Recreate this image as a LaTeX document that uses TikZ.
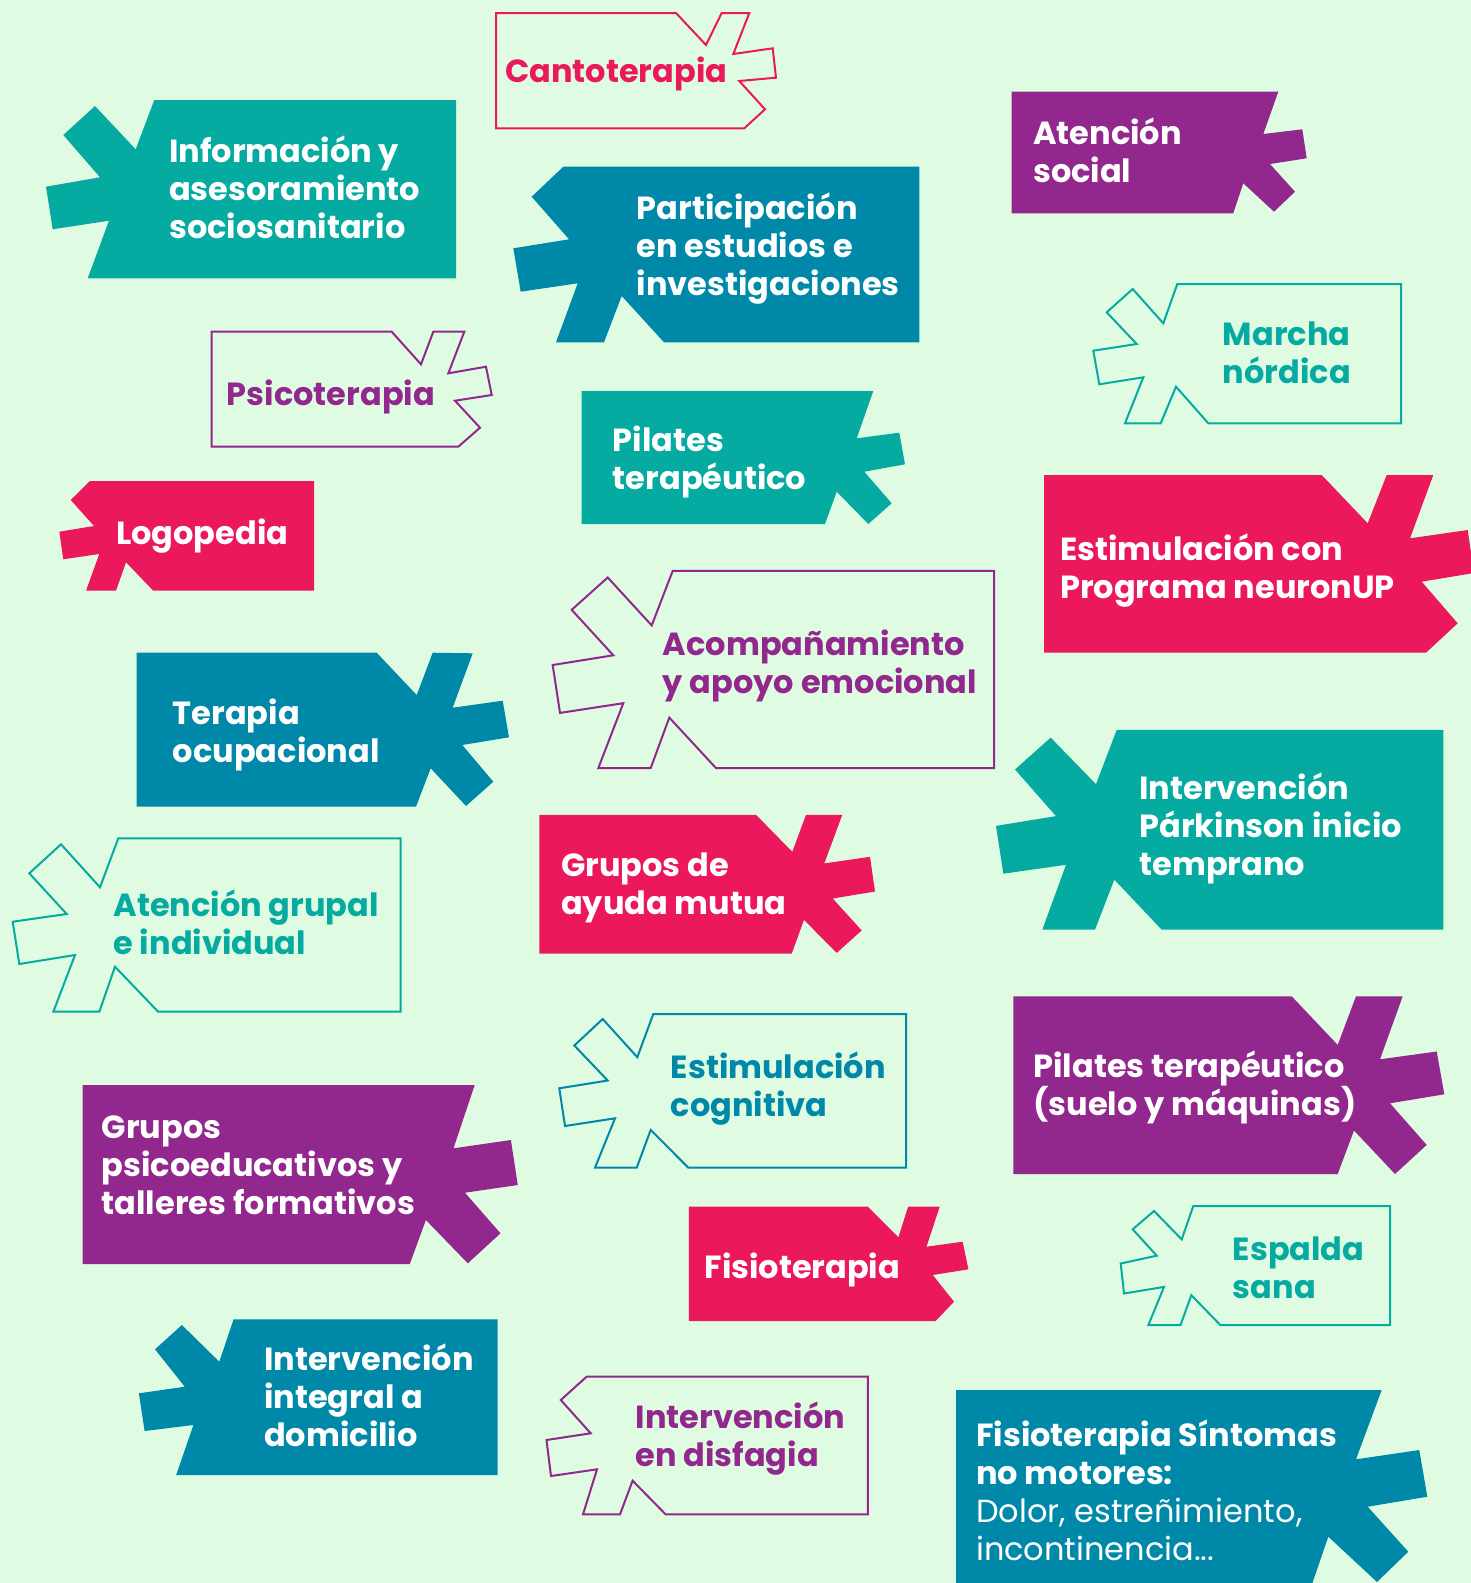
\documentclass[tikz,border=0pt]{standalone}
\usepackage{fontspec}
\setmainfont{Poppins}
\definecolor{mint}{RGB}{223,252,226}
\definecolor{sea}{RGB}{5,170,160}
\definecolor{ocean}{RGB}{0,136,168}
\definecolor{plum}{RGB}{146,40,142}
\definecolor{rose}{RGB}{236,24,92}

\begin{document}
\begin{tikzpicture}[x=1pt,y=-1pt,
  block/.style={fill=#1},
  frame/.style={draw=#1,line width=2pt},
  boxtext/.style={anchor=base west,inner sep=0pt,align=left,text=#1,font=\bfseries\fontsize{32}{38}\selectfont}]

\fill [mint] (0,0) rectangle (1471,1583);
\useasboundingbox (0,0) rectangle (1471,1583);

\fill [block=sea] (154.3,100) -- (456,100) -- (456,278.3) -- (87.7,278.3) -- (109,220.7) -- (52.7,229.3) -- (46,186.7) -- (100,177.3) -- (63.3,135) -- (95,106) -- (135.7,149.3) -- cycle;
\node [boxtext=white] (info) at (169,238.5) {Información y\\asesoramiento\\sociosanitario};

\draw [frame=rose] (496,13) -- (676,13) -- (706,45) -- (721.7,13) -- (749.3,13) -- (733.3,54) -- (772.7,48.3) -- (776,77.7) -- (739.3,81) -- (765,109.3) -- (744.3,128.3) -- (496,128.3) -- cycle;
\node [boxtext=rose] (canto) at (505,82.7) {Cantoterapia};

\fill [block=plum] (1011.7,91.7) -- (1278.3,91.7) -- (1263.3,134) -- (1302.3,129.3) -- (1306.7,158.3) -- (1270,164) -- (1295,191.7) -- (1274,211.7) -- (1243.3,183.3) -- (1233.3,213.3) -- (1011.7,213.3) -- cycle;
\node [boxtext=white] (social) at (1033,182.5) {Atención\\social};

\fill [block=ocean] (563.3,166.7) -- (919.3,166.7) -- (919.3,342.3) -- (664,342.3) -- (621.7,296) -- (604,342.3) -- (556,342.3) -- (577.7,283.3) -- (520.7,291.7) -- (513.3,248.3) -- (569,239.3) -- (531.7,196.7) -- cycle;
\node [boxtext=white] (partic) at (636.7,295) {Participación\\en estudios e\\investigaciones};

\draw [frame=sea] (1177.3,284) -- (1401,284) -- (1401,423.3) -- (1208.3,423.3) -- (1176,386.7) -- (1160.7,423.3) -- (1125,423.3) -- (1143.3,377.3) -- (1099.3,384.3) -- (1093.3,350.7) -- (1136.7,344) -- (1106.7,312.3) -- (1132.7,289) -- (1163.3,323.3) -- cycle;
\node [boxtext=sea] (marcha) at (1222.7,383) {Marcha\\nórdica};

\draw [frame=plum] (211.7,331.7) -- (391.7,331.7) -- (421,364.3) -- (433.3,331.7) -- (464.3,331.7) -- (448.3,373.3) -- (486,366.7) -- (491.7,395) -- (455,400.7) -- (480,427.7) -- (458.3,446.7) -- (211.7,446.7) -- cycle;
\node [boxtext=plum] (psico) at (226.7,405) {Psicoterapia};

\fill [block=sea] (581.7,391) -- (873.3,391) -- (856.7,438.3) -- (899.3,432.7) -- (905,464.3) -- (864.3,471.7) -- (891.7,503.3) -- (868.3,524) -- (836.7,491.7) -- (825,524) -- (581.7,524) -- cycle;
\node [boxtext=white] (pilates) at (612.7,489.3) {Pilates\\terapéutico};

\fill [block=rose] (1044,475) -- (1321.7,475) -- (1367.7,523.3) -- (1386.7,475) -- (1433.3,475) -- (1410,538.3) -- (1467.7,530) -- (1474,573) -- (1421.7,581.7) -- (1457.7,623.3) -- (1426,652.7) -- (1044,652.7) -- cycle;
\node [boxtext=white] (neuron) at (1060,598.3) {Estimulación con\\Programa neuronUP};

\fill [block=rose] (90,481) -- (314,481) -- (314,590.7) -- (153.3,590.7) -- (126,562.3) -- (116,590.7) -- (86,590.7) -- (99.3,554) -- (63.3,559.3) -- (59.3,531.7) -- (94,526) -- (70.7,500) -- cycle;
\node [boxtext=white] (logo) at (116,544) {Logopedia};

\draw [frame=plum] (672.7,570.9) -- (994,570.9) -- (994,768.1) -- (716,768.1) -- (669.3,717.6) -- (650.7,768.1) -- (598.3,768.1) -- (623.3,703.2) -- (560,712.9) -- (552.7,665) -- (613.3,655.3) -- (571.7,609.8) -- (607.7,577.5) -- (651.7,625.4) -- cycle;
\node [boxtext=plum] (acomp) at (662.7,693) {Acompañamiento\\y apoyo emocional};

\fill [block=ocean] (136.7,652.7) -- (376.7,652.7) -- (416.7,695) -- (432.7,652.7) -- (472.7,653.3) -- (452.7,707.7) -- (502.7,700.7) -- (509,737.3) -- (462.3,745) -- (493.3,781.7) -- (466,806) -- (430.7,768.3) -- (416,806.7) -- (136.7,806.7) -- cycle;
\node [boxtext=white] (terapia) at (172.7,762.7) {Terapia\\ocupacional};

\fill [block=sea] (1116.7,729.8) -- (1443.3,729.8) -- (1443.3,929.7) -- (1161.7,929.7) -- (1114.3,879.6) -- (1095,929.7) -- (1042.3,929.7) -- (1066,864.8) -- (1003.3,873.7) -- (996,825.9) -- (1056,816.1) -- (1015,769.5) -- (1050.7,737.6) -- (1096,784.2) -- cycle;
\node [boxtext=white] (parkin) at (1139.3,875.3) {Intervención\\Párkinson inicio\\temprano};

\fill [block=rose] (539.3,814.8) -- (756,814.8) -- (792.3,851.8) -- (806,814.8) -- (842.3,814.8) -- (824.3,863.4) -- (870,856.8) -- (875,891.5) -- (832.7,898.5) -- (861.7,930.4) -- (836.7,952.9) -- (804,919.9) -- (791.7,953.7) -- (539.3,953.7) -- cycle;
\node [boxtext=white] (ayuda) at (561,914) {Grupos de\\ayuda mutua};

\draw [frame=sea] (118.3,838.3) -- (400.5,838.3) -- (400.5,1011.6) -- (158,1011.6) -- (115,966.7) -- (99.4,1011.6) -- (53.4,1011.6) -- (75,955) -- (19.3,964) -- (12.7,921.7) -- (66.7,914) -- (29.3,873.3) -- (61,844.3) -- (100,887.3) -- cycle;
\node [boxtext=sea] (grupal) at (113.3,954) {Atención grupal\\e individual};

\draw [frame=ocean] (653.3,1014) -- (906,1014) -- (906,1167.7) -- (688.3,1167.7) -- (650.7,1129.9) -- (636.7,1167.7) -- (595,1167.7) -- (615,1118.3) -- (565,1126) -- (559.3,1088.3) -- (607.7,1080.5) -- (574.3,1045.5) -- (602.7,1019) -- (637.3,1057.2) -- cycle;
\node [boxtext=ocean] (cognit) at (670.7,1116.3) {Estimulación\\cognitiva};

\fill [block=plum] (1013.3,996.3) -- (1291.7,996.3) -- (1337.7,1044.9) -- (1356,996.3) -- (1402.7,996.3) -- (1380,1059.3) -- (1436.7,1051.5) -- (1444.3,1094.3) -- (1390,1103.3) -- (1426.7,1144.9) -- (1395,1174) -- (1354,1130.5) -- (1337.7,1174) -- (1013.3,1174) -- cycle;
\node [boxtext=white] (suelo) at (1033.3,1115.7) {Pilates terapéutico\\(suelo y máquinas)};

\fill [block=plum] (82.6,1085) -- (474.7,1085) -- (453.5,1148.3) -- (510.9,1140) -- (517.8,1185) -- (465,1192.7) -- (500.5,1233.3) -- (467.8,1263.3) -- (425.9,1220) -- (409.8,1264) -- (82.6,1264) -- cycle;
\node [boxtext=white] (psicoed) at (101.6,1214) {Grupos\\psicoeducativos y\\talleres formativos};

\fill [block=rose] (688.8,1206.7) -- (867.9,1206.7) -- (898.4,1237.3) -- (908.1,1206.7) -- (939.7,1206.7) -- (926.5,1246.7) -- (962.7,1241.7) -- (968.4,1269.3) -- (932.8,1275) -- (954,1301.7) -- (935.7,1321) -- (688.8,1321) -- cycle;
\node [boxtext=white] (fisio) at (704.3,1278.3) {Fisioterapia};

\draw [frame=sea] (1193.3,1206) -- (1390,1206) -- (1390,1325) -- (1220.3,1325) -- (1191.3,1295.2) -- (1180.5,1325) -- (1148.4,1325) -- (1164,1286.9) -- (1124,1293.5) -- (1120.7,1263.5) -- (1156.7,1255.7) -- (1132.7,1229.3) -- (1154,1211) -- (1181.7,1239.4) -- cycle;
\node [boxtext=sea] (espalda) at (1232.7,1298.5) {Espalda\\sana};

\fill [block=ocean] (233.6,1319.3) -- (497.7,1319.3) -- (497.7,1475) -- (176.2,1475) -- (193.4,1425) -- (144.6,1431) -- (138.9,1393.3) -- (184.8,1386.7) -- (155,1349.3) -- (181.9,1325) -- (219.3,1361.7) -- cycle;
\node [boxtext=white] (domic) at (264,1446) {Intervención\\integral a\\domicilio};

\draw [frame=plum] (586.6,1376.7) -- (867.9,1376.7) -- (867.9,1514.4) -- (665.7,1514.4) -- (632.6,1480.7) -- (620,1514.4) -- (583,1514.4) -- (597,1469.3) -- (551,1476) -- (546.5,1440) -- (590.7,1433.3) -- (560.8,1400) -- cycle;
\node [boxtext=plum] (disfag) at (635.4,1466) {Intervención\\en disfagia};

\fill [block=ocean] (956,1390) -- (1381.7,1390) -- (1356,1459.3) -- (1419.3,1450) -- (1427.3,1496.7) -- (1367.7,1506.7) -- (1408.3,1551.7) -- (1377,1582) -- (1328.3,1536.7) -- (1310,1590) -- (956,1590) -- cycle;
\node [boxtext=white] (sintom) at (976,1560) {Fisioterapia Síntomas\\no motores:\\{\mdseries Dolor, estreñimiento,}\\{\mdseries incontinencia...}};

\end{tikzpicture}
\end{document}
